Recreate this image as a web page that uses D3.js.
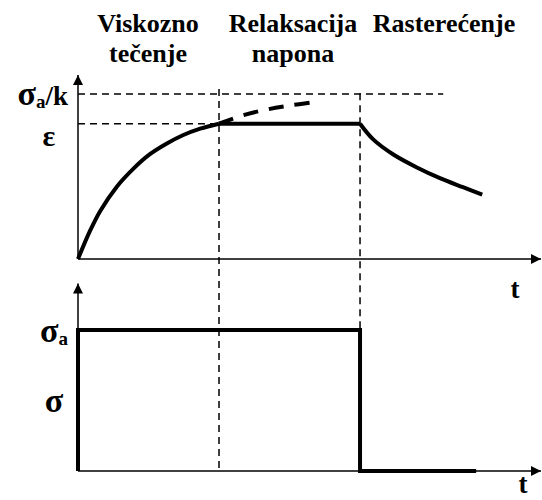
<!DOCTYPE html>
<html>
<head>
<meta charset="utf-8">
<script src="https://cdn.jsdelivr.net/npm/d3@7/dist/d3.min.js"></script>
<style>
  html, body { margin: 0; padding: 0; background: #fff; }
  svg { display: block; }
</style>
</head>
<body>
<div id="chart"></div>
<script>
// Phase boundaries on the time axis
const tCreepEnd = 3;
const tRelaxEnd = 6;
const tAxisEnd = 9.85;

// Strain levels (relative to sigma_a / k)
const strainLimit = 1.0;   // sigma_a / k
const strainHeld = 0.82;   // epsilon held during relaxation

// Creep phase: strain vs time
const creepT = [0, 0.255, 0.47, 0.83, 1.17, 1.53, 1.89, 2.23, 2.6, 3.0];
const creepE = [0, 0.17, 0.29, 0.44, 0.545, 0.635, 0.70, 0.75, 0.79, 0.82];

// Continued creep if the load were kept (dashed)
const contT = [3.0, 3.5, 4.0, 4.5, 5.0];
const contE = [0.82, 0.87, 0.905, 0.93, 0.95];

// Relaxation phase: constant strain
const relaxT = [3.0, 6.0];
const relaxE = [0.82, 0.82];

// Unloading: strain recovery
const unloadT = [6.0, 6.28, 6.70, 7.21, 7.70, 8.19, 8.60];
const unloadE = [0.82, 0.725, 0.635, 0.555, 0.49, 0.435, 0.39];

// Stress history (relative to sigma_a)
const stressT = [0, 0, 6, 6, 8.47];
const stressS = [0, 1, 1, 0, 0];

// Phase titles
const phaseTitles = [
  { lines: ["Viskozno", "tečenje"], x: 148 },
  { lines: ["Relaksacija", "napona"], x: 293 },
  { lines: ["Rasterećenje"], x: 444 }
];

const FONT = "Liberation Serif";

const W = 542, H = 500;
const svg = d3.select("#chart").append("svg").attr("width", W).attr("height", H);

const x = d3.scaleLinear().domain([0, tAxisEnd]).range([78, 541]);
const yTop = d3.scaleLinear().domain([0, 1]).range([259, 94]);
const yBot = d3.scaleLinear().domain([0, 1]).range([471, 330]);

// Arrowhead marker
const defs = svg.append("defs");
defs.append("marker")
  .attr("id", "arrow")
  .attr("viewBox", "0 0 10 10")
  .attr("refX", 10).attr("refY", 5)
  .attr("markerWidth", 11).attr("markerHeight", 10)
  .attr("markerUnits", "userSpaceOnUse")
  .attr("orient", "auto")
  .append("path").attr("d", "M0,0 L10,5 L0,10 Z").attr("fill", "#000");

function axisPair(yScale, yMaxVal) {
  // vertical axis
  svg.append("line")
    .attr("x1", x(0)).attr("x2", x(0))
    .attr("y1", yScale(0)).attr("y2", yScale(yMaxVal))
    .attr("stroke", "#000").attr("stroke-width", 1.5)
    .attr("marker-end", "url(#arrow)");
  // horizontal axis
  svg.append("line")
    .attr("x1", x(0)).attr("x2", x(tAxisEnd))
    .attr("y1", yScale(0)).attr("y2", yScale(0))
    .attr("stroke", "#000").attr("stroke-width", 1.5)
    .attr("marker-end", "url(#arrow)");
}

axisPair(yTop, 1.115);
axisPair(yBot, 1.33);

// Guide lines (thin dashed)
const guide = svg.append("g")
  .attr("stroke", "#000").attr("stroke-width", 1.5)
  .attr("stroke-dasharray", "7,5").attr("fill", "none");

guide.append("line")
  .attr("x1", x(0)).attr("x2", x(7.77))
  .attr("y1", yTop(strainLimit)).attr("y2", yTop(strainLimit));
guide.append("line")
  .attr("x1", x(0)).attr("x2", x(tCreepEnd))
  .attr("y1", yTop(strainHeld)).attr("y2", yTop(strainHeld));
guide.append("line")
  .attr("x1", x(tCreepEnd)).attr("x2", x(tCreepEnd))
  .attr("y1", yTop(1.03)).attr("y2", yBot(0));
guide.append("line")
  .attr("x1", x(tRelaxEnd)).attr("x2", x(tRelaxEnd))
  .attr("y1", yTop(1.005)).attr("y2", yBot(1));

// Curves
const smoothLine = d3.line().x(d => x(d[0])).y(d => yTop(d[1])).curve(d3.curveCatmullRom.alpha(0.5));
const zip = (a, b) => a.map((v, i) => [v, b[i]]);

const curves = svg.append("g").attr("fill", "none").attr("stroke", "#000");

curves.append("path")
  .attr("d", smoothLine(zip(creepT, creepE)))
  .attr("stroke-width", 4);

curves.append("path")
  .attr("d", smoothLine(zip(contT, contE)))
  .attr("stroke-width", 4)
  .attr("stroke-dasharray", "15,11");

curves.append("path")
  .attr("d", smoothLine(zip(relaxT, relaxE)))
  .attr("stroke-width", 4);

curves.append("path")
  .attr("d", smoothLine(zip(unloadT, unloadE)))
  .attr("stroke-width", 4);

// Stress step
const stepLine = d3.line().x(d => x(d[0])).y(d => yBot(d[1]));
curves.append("path")
  .attr("d", stepLine(zip(stressT, stressS)))
  .attr("stroke-width", 4)
  .attr("stroke-linejoin", "miter");

// Text helper: bold serif
function label(xp, yp, size, anchor) {
  return svg.append("text")
    .attr("x", xp).attr("y", yp)
    .attr("font-family", FONT).attr("font-weight", "bold")
    .attr("font-size", size)
    .attr("text-anchor", anchor || "middle");
}

// Phase titles
phaseTitles.forEach(p => {
  p.lines.forEach((ln, i) => {
    label(p.x, 32 + i * 30, 26).text(ln);
  });
});

// Axis labels
const lab1 = label(68, 105, 27, "end");
lab1.append("tspan").attr("font-family", FONT).attr("font-size", 34).text("σ");
lab1.append("tspan").attr("font-family", FONT).attr("font-size", 19).attr("dy", 3).text("a");
lab1.append("tspan").attr("font-family", FONT).attr("dy", -3).text("/k");

label(49, 146, 30).text("ε");

const lab3 = label(68, 342, 34, "end");
lab3.append("tspan").attr("font-family", FONT).text("σ");
lab3.append("tspan").attr("font-family", FONT).attr("font-size", 19).attr("dy", 3).text("a");

label(54, 412, 34).text("σ");

label(515, 298, 27).text("t");
label(523, 493, 27).text("t");
</script>
</body>
</html>
